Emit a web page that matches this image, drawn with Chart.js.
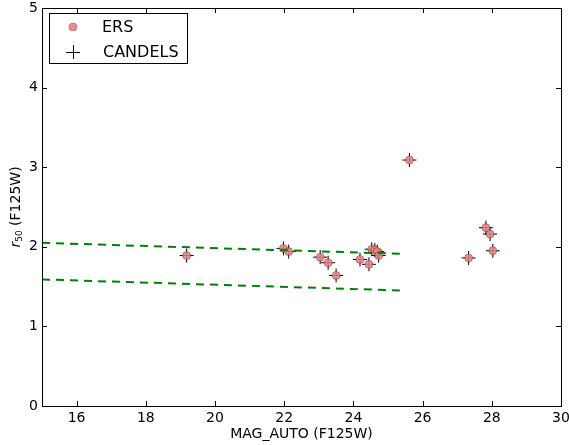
<!DOCTYPE html>
<html><head><meta charset="utf-8">
<script src="https://cdn.jsdelivr.net/npm/chart.js@4/dist/chart.umd.min.js"></script>
<style>html,body{margin:0;padding:0;background:#fff}#wrap{width:569px;height:445px;position:relative}</style>
</head><body><div id="wrap"><canvas id="c" width="569" height="445"></canvas></div>
<script>
const ersX = [19.18, 21.98, 22.13, 23.04, 23.27, 23.50, 24.19, 24.45, 24.53, 24.62, 24.69, 24.73, 25.62, 27.33, 27.83, 27.95, 28.03];
const ersY = [1.89, 1.98, 1.94, 1.87, 1.80, 1.64, 1.84, 1.78, 1.97, 1.96, 1.94, 1.89, 3.09, 1.86, 2.24, 2.16, 1.95];
const candelsX = [19.18, 21.98, 22.13, 23.04, 23.27, 23.50, 24.19, 24.45, 24.53, 24.62, 24.69, 24.73, 25.62, 27.33, 27.83, 27.95, 28.03];
const candelsY = [1.89, 1.98, 1.94, 1.87, 1.80, 1.64, 1.84, 1.78, 1.97, 1.96, 1.94, 1.89, 3.09, 1.86, 2.24, 2.16, 1.95];
const lineX = [15, 25.5];
const upperY = [2.05, 1.91];
const lowerY = [1.59, 1.45];
const xTicks = [16, 18, 20, 22, 24, 26, 28, 30];
const yTicks = [0, 1, 2, 3, 4, 5];
const legendLabels = ['ERS', 'CANDELS'];

const pts = (xs, ys) => xs.map((x, i) => ({x, y: ys[i]}));
const FONT = "'DejaVu Sans', sans-serif";

const framePlugin = {
  id: 'frame',
  afterDatasetsDraw(chart) {
    const {ctx, chartArea: a, scales: {x, y}} = chart;
    ctx.save();
    ctx.strokeStyle = '#000';
    ctx.lineWidth = 1;
    ctx.beginPath();
    const L = 5;
    xTicks.forEach(v => {
      const px = Math.round(x.getPixelForValue(v)) + 0.5;
      ctx.moveTo(px, a.bottom); ctx.lineTo(px, a.bottom - L);
      ctx.moveTo(px, a.top); ctx.lineTo(px, a.top + L);
    });
    yTicks.forEach(v => {
      const py = Math.round(y.getPixelForValue(v)) + 0.5;
      ctx.moveTo(a.left, py); ctx.lineTo(a.left + L, py);
      ctx.moveTo(a.right, py); ctx.lineTo(a.right - L, py);
    });
    ctx.stroke();
    ctx.strokeRect(Math.round(a.left) + 0.5, Math.round(a.top) + 0.5, Math.round(a.right - a.left), Math.round(a.bottom - a.top));

    // tick labels
    ctx.fillStyle = '#000';
    ctx.font = '14px ' + FONT;
    ctx.textAlign = 'center';
    ctx.textBaseline = 'top';
    xTicks.forEach(v => ctx.fillText(String(v), x.getPixelForValue(v), a.bottom + 5));
    ctx.textAlign = 'right';
    ctx.textBaseline = 'middle';
    yTicks.forEach(v => ctx.fillText(String(v), a.left - 4, y.getPixelForValue(v)));

    // legend
    const lx = 49.5, ly = 13.5, lw = 138, lh = 50;
    ctx.fillStyle = '#fff';
    ctx.fillRect(lx, ly, lw, lh);
    ctx.strokeRect(lx, ly, lw, lh);
    ctx.beginPath();
    ctx.arc(73, 27, 4, 0, Math.PI * 2);
    ctx.fillStyle = 'rgba(240,128,128,0.9)';
    ctx.fill();
    ctx.strokeStyle = 'rgba(0,0,0,0.25)';
    ctx.stroke();
    ctx.strokeStyle = '#000';
    ctx.beginPath();
    ctx.moveTo(66, 52.5); ctx.lineTo(80, 52.5);
    ctx.moveTo(73.5, 45); ctx.lineTo(73.5, 59);
    ctx.stroke();
    ctx.fillStyle = '#000';
    ctx.font = '16px ' + FONT;
    ctx.textBaseline = 'middle';
    ctx.textAlign = 'left';
    ctx.fillText(legendLabels[0], 102, 28);
    ctx.fillText(legendLabels[1], 103, 53);

    // y title with subscript
    ctx.save();
    ctx.translate(16, (a.top + a.bottom) / 2);
    ctx.rotate(-Math.PI / 2);
    ctx.textBaseline = 'middle';
    ctx.font = 'italic 14px ' + FONT;
    const rW = ctx.measureText('r').width;
    ctx.font = '9px ' + FONT;
    const sW = ctx.measureText('50').width;
    ctx.font = '14px ' + FONT;
    const tW = ctx.measureText(' (F125W)').width;
    let sx = -(rW + sW + tW) / 2;
    ctx.font = 'italic 14px ' + FONT;
    ctx.fillText('r', sx, 0);
    sx += rW;
    ctx.font = '9px ' + FONT;
    ctx.fillText('50', sx, 4);
    sx += sW;
    ctx.font = '14px ' + FONT;
    ctx.fillText(' (F125W)', sx, 0);
    ctx.restore();
    ctx.restore();
  }
};

new Chart(document.getElementById('c'), {
  type: 'scatter',
  data: {
    datasets: [
      {label: 'upper', data: pts(lineX, upperY), showLine: true, borderColor: '#008000', borderWidth: 2, borderDash: [8, 6], pointRadius: 0, fill: false},
      {label: 'lower', data: pts(lineX, lowerY), showLine: true, borderColor: '#008000', borderWidth: 2, borderDash: [8, 6], pointRadius: 0, fill: false},
      {label: legendLabels[0], data: pts(ersX, ersY), pointStyle: 'circle', pointRadius: 4, backgroundColor: 'rgba(240,128,128,0.85)', borderColor: 'rgba(0,0,0,0.3)', borderWidth: 1},
      {label: legendLabels[1], data: pts(candelsX, candelsY), pointStyle: 'cross', pointRadius: 7, borderColor: '#000', borderWidth: 1}
    ]
  },
  options: {
    responsive: false,
    animation: false,
    devicePixelRatio: 1,
    layout: {padding: {top: 6, right: 8, left: 0, bottom: 0}},
    plugins: {legend: {display: false}, tooltip: {enabled: false}},
    scales: {
      x: {
        type: 'linear', min: 15, max: 30,
        afterBuildTicks: s => { s.ticks = xTicks.map(v => ({value: v})); },
        afterFit: s => { s.height = 39; s.paddingLeft = 0; s.paddingRight = 0; },
        grid: {display: false, drawTicks: false},
        border: {display: false},
        ticks: {display: false},
        title: {display: true, text: 'MAG_AUTO (F125W)', color: '#000', font: {family: FONT, size: 14}, padding: {top: 0, bottom: 2}}
      },
      y: {
        type: 'linear', min: 0, max: 5,
        afterBuildTicks: s => { s.ticks = yTicks.map(v => ({value: v})); },
        afterFit: s => { s.width = 42; s.paddingTop = 0; s.paddingBottom = 0; },
        grid: {display: false, drawTicks: false},
        border: {display: false},
        ticks: {display: false}
      }
    }
  },
  plugins: [framePlugin]
});
</script></body></html>
